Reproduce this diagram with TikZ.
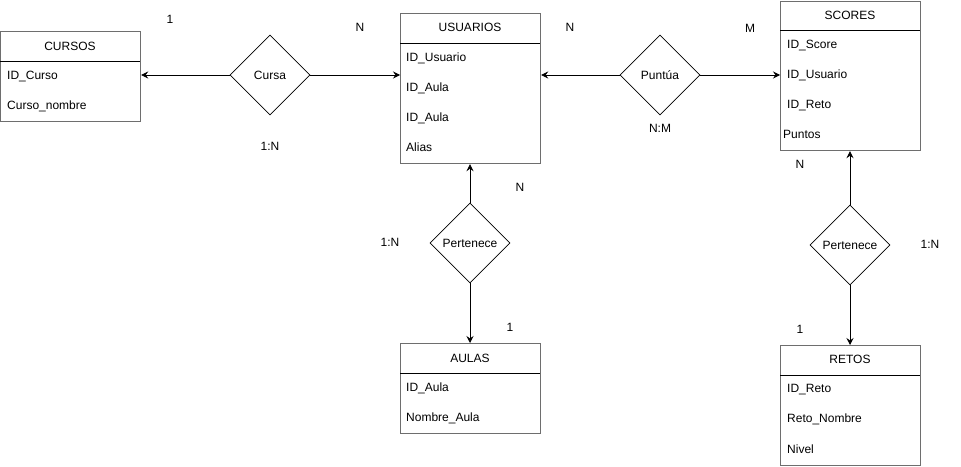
\documentclass[tikz,border=0pt]{standalone}
\usepackage{fontspec}
\setmainfont{Liberation Sans}
\usetikzlibrary{shapes.geometric,arrows.meta}
\definecolor{boxgray}{RGB}{110,110,110}
\begin{document}
\begin{tikzpicture}[x=1pt,y=-1pt,
  every node/.style={font=\fontsize{12}{14}\selectfont, inner sep=0pt},
  txt/.style={text height=8.6pt, text depth=0pt},
  entity/.style={draw=boxgray, line width=1.2pt, rectangle, minimum width=140pt, anchor=north west},
  hdr/.style={draw=black, line width=0.8pt},
  attr/.style={txt, anchor=west},
  rel/.style={draw=black, line width=0.8pt, diamond, minimum width=80pt, minimum height=80pt, aspect=1},
  card/.style={txt},
  conn/.style={draw=black, line width=0.8pt, -{Stealth[length=7pt,width=7pt,inset=2.5pt]}}]
\useasboundingbox (0,0) rectangle (961,466);
\fill[white] (0,0) rectangle (961,466);

% CURSOS
\node[entity, minimum height=90pt] (cursos) at (0,31) {};
\draw[hdr] (0,61) -- (140,61);
\node[txt] (cursosT) at (70,46) {CURSOS};
\node[attr] (c1) at (7,75) {ID\_Curso};
\node[attr] (c2) at (7,105) {Curso\_nombre};

% USUARIOS
\node[entity, minimum height=150pt] (usu) at (400,13) {};
\draw[hdr] (400,43) -- (540,43);
\node[txt] (usuT) at (470,27) {USUARIOS};
\node[attr] (u1) at (406,57) {ID\_Usuario};
\node[attr] (u2) at (406,87) {ID\_Aula};
\node[attr] (u3) at (406,117) {ID\_Aula};
\node[attr] (u4) at (406,147) {Alias};

% SCORES
\node[entity, minimum height=149pt] (scores) at (780,1) {};
\draw[hdr] (780,30) -- (920,30);
\node[txt] (scoresT) at (850,15) {SCORES};
\node[attr] (s1) at (787,44) {ID\_Score};
\node[attr] (s2) at (787,74) {ID\_Usuario};
\node[attr] (s3) at (787,104) {ID\_Reto};
\node[attr] (s4) at (783,134) {Puntos};

% AULAS
\node[entity, minimum height=90pt] (aulas) at (400,343) {};
\draw[hdr] (400,373) -- (540,373);
\node[txt] (aulasT) at (470,358) {AULAS};
\node[attr] (a1) at (406,387) {ID\_Aula};
\node[attr] (a2) at (406,417) {Nombre\_Aula};

% RETOS
\node[entity, minimum height=120pt] (retos) at (780,345) {};
\draw[hdr] (780,375) -- (920,375);
\node[txt] (retosT) at (850,359) {RETOS};
\node[attr] (r1) at (787,388) {ID\_Reto};
\node[attr] (r2) at (787,418) {Reto\_Nombre};
\node[attr] (r3) at (787,449) {Nivel};

% relationships
\node[rel, txt] (cursa) at (270,75) {Cursa};
\node[rel, txt] (puntua) at (660,75) {Puntúa};
\node[rel, txt] (pert1) at (470,243) {Pertenece};
\node[rel, txt] (pert2) at (850,245) {Pertenece};

% connectors
\draw[conn] (cursa.west) -- (cursa.west -| cursos.east);
\draw[conn] (cursa.east) -- (cursa.east -| usu.west);
\draw[conn] (puntua.west) -- (puntua.west -| usu.east);
\draw[conn] (puntua.east) -- (puntua.east -| scores.west);
\draw[conn] (pert1.north) -- (pert1.north |- usu.south);
\draw[conn] (pert1.south) -- (pert1.south |- aulas.north);
\draw[conn] (pert2.north) -- (pert2.north |- scores.south);
\draw[conn] (pert2.south) -- (pert2.south |- retos.north);

% cardinalities
\node[card] (k1) at (170,19) {1};
\node[card] (k2) at (360,27) {N};
\node[card] (k3) at (270,146) {1:N};
\node[card] (k4) at (570,27) {N};
\node[card] (k5) at (750,28) {M};
\node[card] (k6) at (660,128) {N:M};
\node[card] (k7) at (520,187) {N};
\node[card] (k8) at (390,242) {1:N};
\node[card] (k9) at (510,327) {1};
\node[card] (k10) at (800,164) {N};
\node[card] (k11) at (930,244) {1:N};
\node[card] (k12) at (800,329) {1};
\end{tikzpicture}
\end{document}
